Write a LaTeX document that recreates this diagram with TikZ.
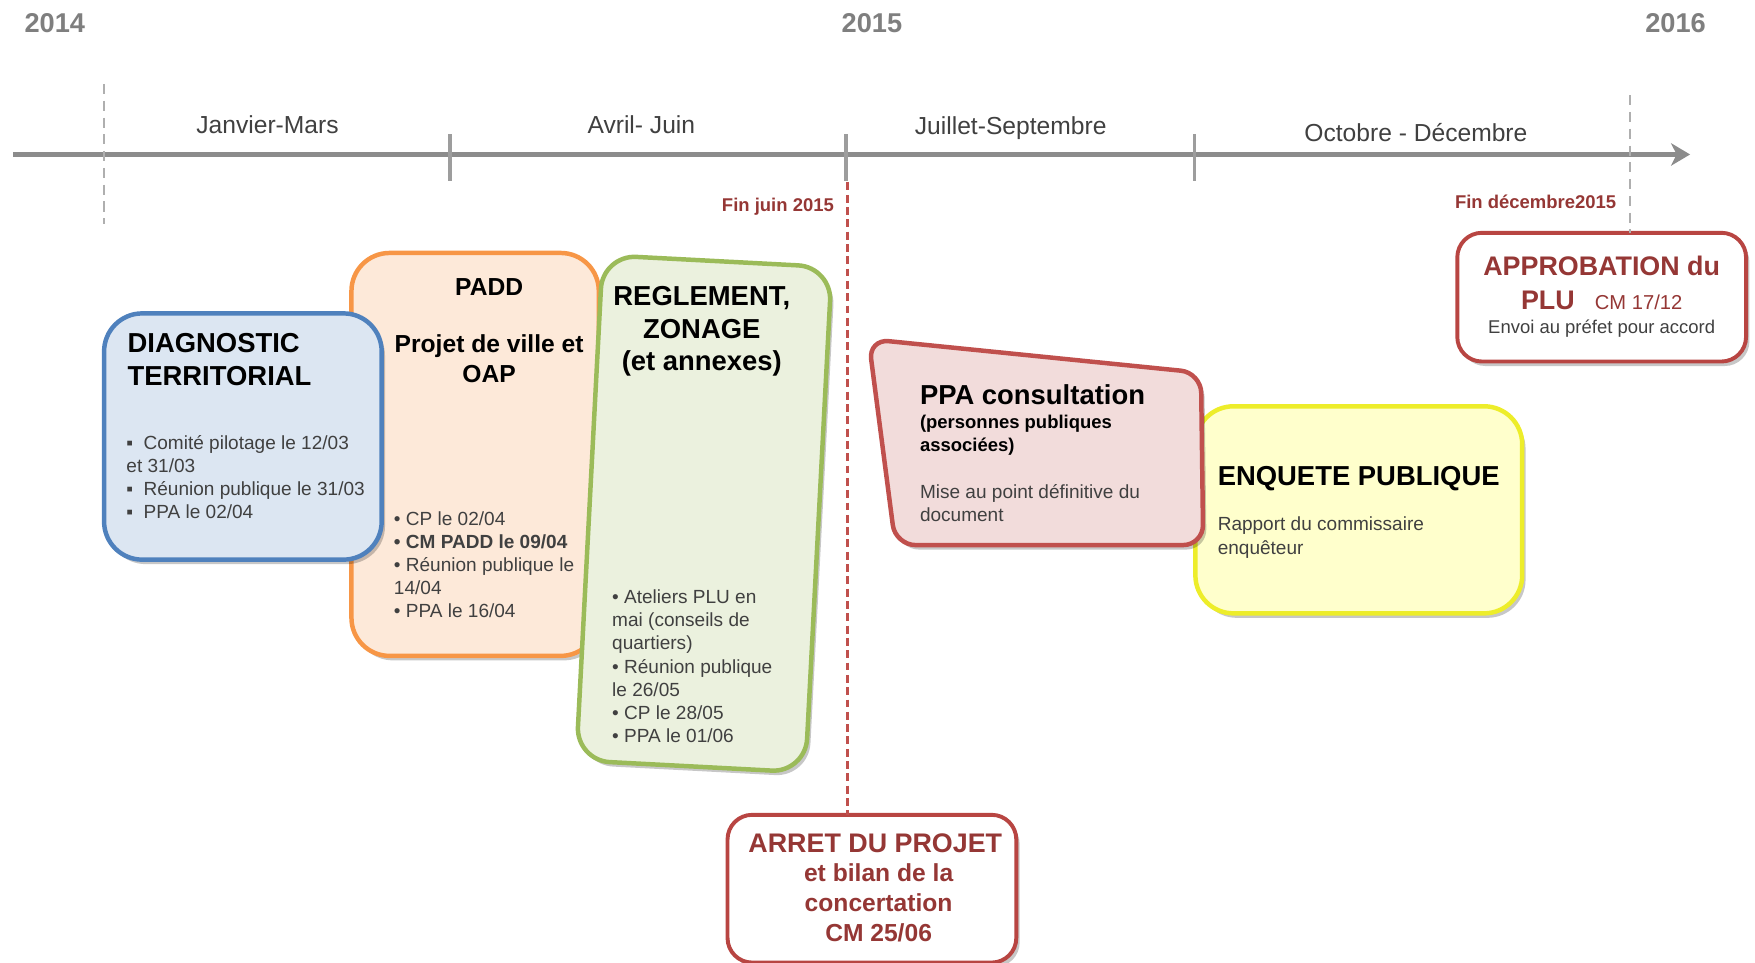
\documentclass[tikz,border=0pt]{standalone}
\usepackage{fontspec}
\setmainfont{Liberation Sans}
\usetikzlibrary{arrows.meta,shadows}
\definecolor{diagline}{HTML}{4F81BD}
\definecolor{diagfill}{HTML}{DCE6F2}
\definecolor{paddline}{HTML}{F79646}
\definecolor{paddfill}{HTML}{FDE9D9}
\definecolor{regline}{HTML}{9BBB59}
\definecolor{regfill}{HTML}{EBF1DE}
\definecolor{ppaline}{HTML}{C0504D}
\definecolor{ppafill}{HTML}{F2DCDB}
\definecolor{enqline}{HTML}{EDED2A}
\definecolor{enqfill}{HTML}{FFFFCC}
\definecolor{msline}{HTML}{B84542}
\definecolor{darkred}{HTML}{953735}
\definecolor{bodygray}{HTML}{404040}
\definecolor{axisgray}{HTML}{8C8C8C}
\definecolor{yeargray}{HTML}{7F7F7F}
\definecolor{dashgray}{HTML}{AFAFAF}
\begin{document}
\begin{tikzpicture}[x=1pt,y=-1pt,
  every node/.style={inner sep=0pt,outer sep=0pt},
  shadowed/.style={drop shadow={shadow xshift=3pt,shadow yshift=-4pt,opacity=0.22,fill=black}},
  phasebox/.style={shadowed,line width=4pt,rounded corners=34pt},
  diagbox/.style={phasebox,draw=diagline,fill=diagfill,minimum width=248pt,minimum height=220pt},
  paddbox/.style={phasebox,draw=paddline,fill=paddfill,minimum width=221pt,minimum height=360pt},
  regbox/.style={phasebox,draw=regline,fill=regfill,minimum width=205pt,minimum height=452pt,rotate=-3,rounded corners=30pt},
  enqbox/.style={phasebox,draw=enqline,fill=enqfill,minimum width=292pt,minimum height=185pt},
  ppabox/.style={shadowed,line width=4pt,draw=ppaline,fill=ppafill,rounded corners=18pt},
  msbox/.style={shadowed,line width=3.5pt,draw=msline,fill=white,rounded corners=22pt},
  axisline/.style={line width=5pt,draw=axisgray,-{Stealth[length=17pt,width=20pt,inset=5pt]}},
  tickline/.style={line width=3pt,draw=axisgray!85},
  greydash/.style={line width=1.6pt,draw=dashgray,dash pattern=on 9pt off 6pt},
  reddash/.style={line width=3pt,draw=ppaline,dash pattern=on 7pt off 4pt},
  yearlbl/.style={text=yeargray,font=\fontsize{24.3}{28}\selectfont\bfseries,anchor=base},
  periodlbl/.style={text=bodygray,font=\fontsize{22}{26}\selectfont,anchor=base},
  datelbl/.style={text=darkred,font=\fontsize{16.5}{20}\selectfont\bfseries,anchor=base east},
  bigtitle/.style={text=black,font=\fontsize{24.5}{29}\selectfont\bfseries},
  midtitle/.style={text=black,font=\fontsize{22}{27}\selectfont\bfseries},
  bodytxt/.style={text=bodygray,font=\fontsize{17}{20.7}\selectfont,align=left,anchor=north west},
  mstitle/.style={text=darkred,font=\fontsize{24}{28}\selectfont\bfseries,anchor=base},
  mssub/.style={text=darkred,font=\fontsize{22}{26.5}\selectfont\bfseries,align=center,anchor=north}
]
\useasboundingbox (0,0) rectangle (1568,859.5);

% ---- year labels ----
\node[yearlbl] (y2014) at (49,28.7) {2014};
\node[yearlbl] (y2015) at (779,28.7) {2015};
\node[yearlbl] (y2016) at (1497,28.7) {2016};

% ---- period labels ----
\node[periodlbl] (p1) at (239,119) {Janvier-Mars};
\node[periodlbl] (p2) at (573,119) {Avril- Juin};
\node[periodlbl] (p3) at (903,120) {Juillet-Septembre};
\node[periodlbl] (p4) at (1265,126) {Octobre - Décembre};

% ---- boxes ----
\node[paddbox] (padd) at (424.5,406) {};
\node[diagbox] (diag) at (217,390) {};
\node[regbox] (regl) at (629,459) {};
\node[enqbox] (enq) at (1214,455.5) {};
\draw[ppabox] (776,303) -- (1073,333) -- (1075,487) -- (800,487) -- cycle;
\node[msbox,minimum width=258pt,minimum height=115pt] (approb) at (1431,265.5) {};
\node[msbox,minimum width=258pt,minimum height=132pt] (arret) at (779,794) {};

% ---- time axis ----
\coordinate (axL) at (12,138);
\coordinate (axR) at (1510,138);
\draw[axisline] (axL) -- (axR);
\draw[tickline] (402,120) -- (402,162);
\draw[tickline] (756,120) -- (756,162);
\draw[tickline] (1067,120) -- (1067,162);
\draw[greydash] (93,75) -- (93,200);
\coordinate (decline) at (1456,85);
\draw[greydash] (decline) -- (decline |- approb.north);
\coordinate (juin) at (757,163);
\draw[reddash] (juin) -- (juin |- arret.north);

\node[datelbl] (finjuin) at (745,189) {Fin juin 2015};
\node[datelbl] (findec) at (1444,186) {Fin décembre2015};

% ---- DIAGNOSTIC ----
\node[bigtitle,align=left,anchor=north west] (diagt) at (114,298) {DIAGNOSTIC\\TERRITORIAL};
\node[bodytxt] (diagb) at (113,389) {▪\hspace{0.55em}Comité pilotage le 12/03\\et 31/03\\▪\hspace{0.55em}Réunion publique le 31/03\\▪\hspace{0.55em}PPA le 02/04};

% ---- PADD ----
\node[midtitle,anchor=base] (paddt) at (437,264) {PADD};
\node[midtitle,align=center,anchor=north] (paddst) at (437,299) {Projet de ville et\\OAP};
\node[bodytxt] (paddb) at (352,457) {• CP le 02/04\\\textbf{• CM PADD le 09/04}\\• Réunion publique le\\14/04\\• PPA le 16/04};

% ---- REGLEMENT ----
\node[bigtitle,align=center,anchor=north] (regt) at (627,256) {REGLEMENT,\\ZONAGE\\(et annexes)};
\node[bodytxt] (regb) at (547,527) {• Ateliers PLU en\\mai (conseils de\\quartiers)\\• Réunion publique\\le 26/05\\• CP le 28/05\\• PPA le 01/06};

% ---- PPA ----
\node[bigtitle,anchor=base west] (ppat) at (822,361) {PPA consultation};
\node[bodytxt,text=black,font=\fontsize{16.5}{20}\selectfont\bfseries] (ppas) at (822,371) {(personnes publiques\\associées)};
\node[bodytxt] (ppab) at (822,433) {Mise au point définitive du\\document};

% ---- ENQUETE ----
\node[bigtitle,anchor=base west] (enqt) at (1088,434) {ENQUETE PUBLIQUE};
\node[bodytxt] (enqb) at (1088,462) {Rapport du commissaire\\enquêteur};

% ---- APPROBATION ----
\node[mstitle] (approbt) at (1431,246.5) {APPROBATION du};
\node[mstitle] (approbs) at (1431,276.5) {PLU\hspace{18pt}{\fontsize{18}{22}\selectfont\mdseries CM 17/12}};
\node[text=bodygray,font=\fontsize{16.5}{20}\selectfont,anchor=base] (approbb) at (1431,298) {Envoi au préfet pour accord};

% ---- ARRET ----
\node[mstitle] (arrett) at (782,761.5) {ARRET DU PROJET};
\node[mssub] (arrets) at (785,772) {et bilan de la\\concertation\\CM 25/06};
\end{tikzpicture}
\end{document}
